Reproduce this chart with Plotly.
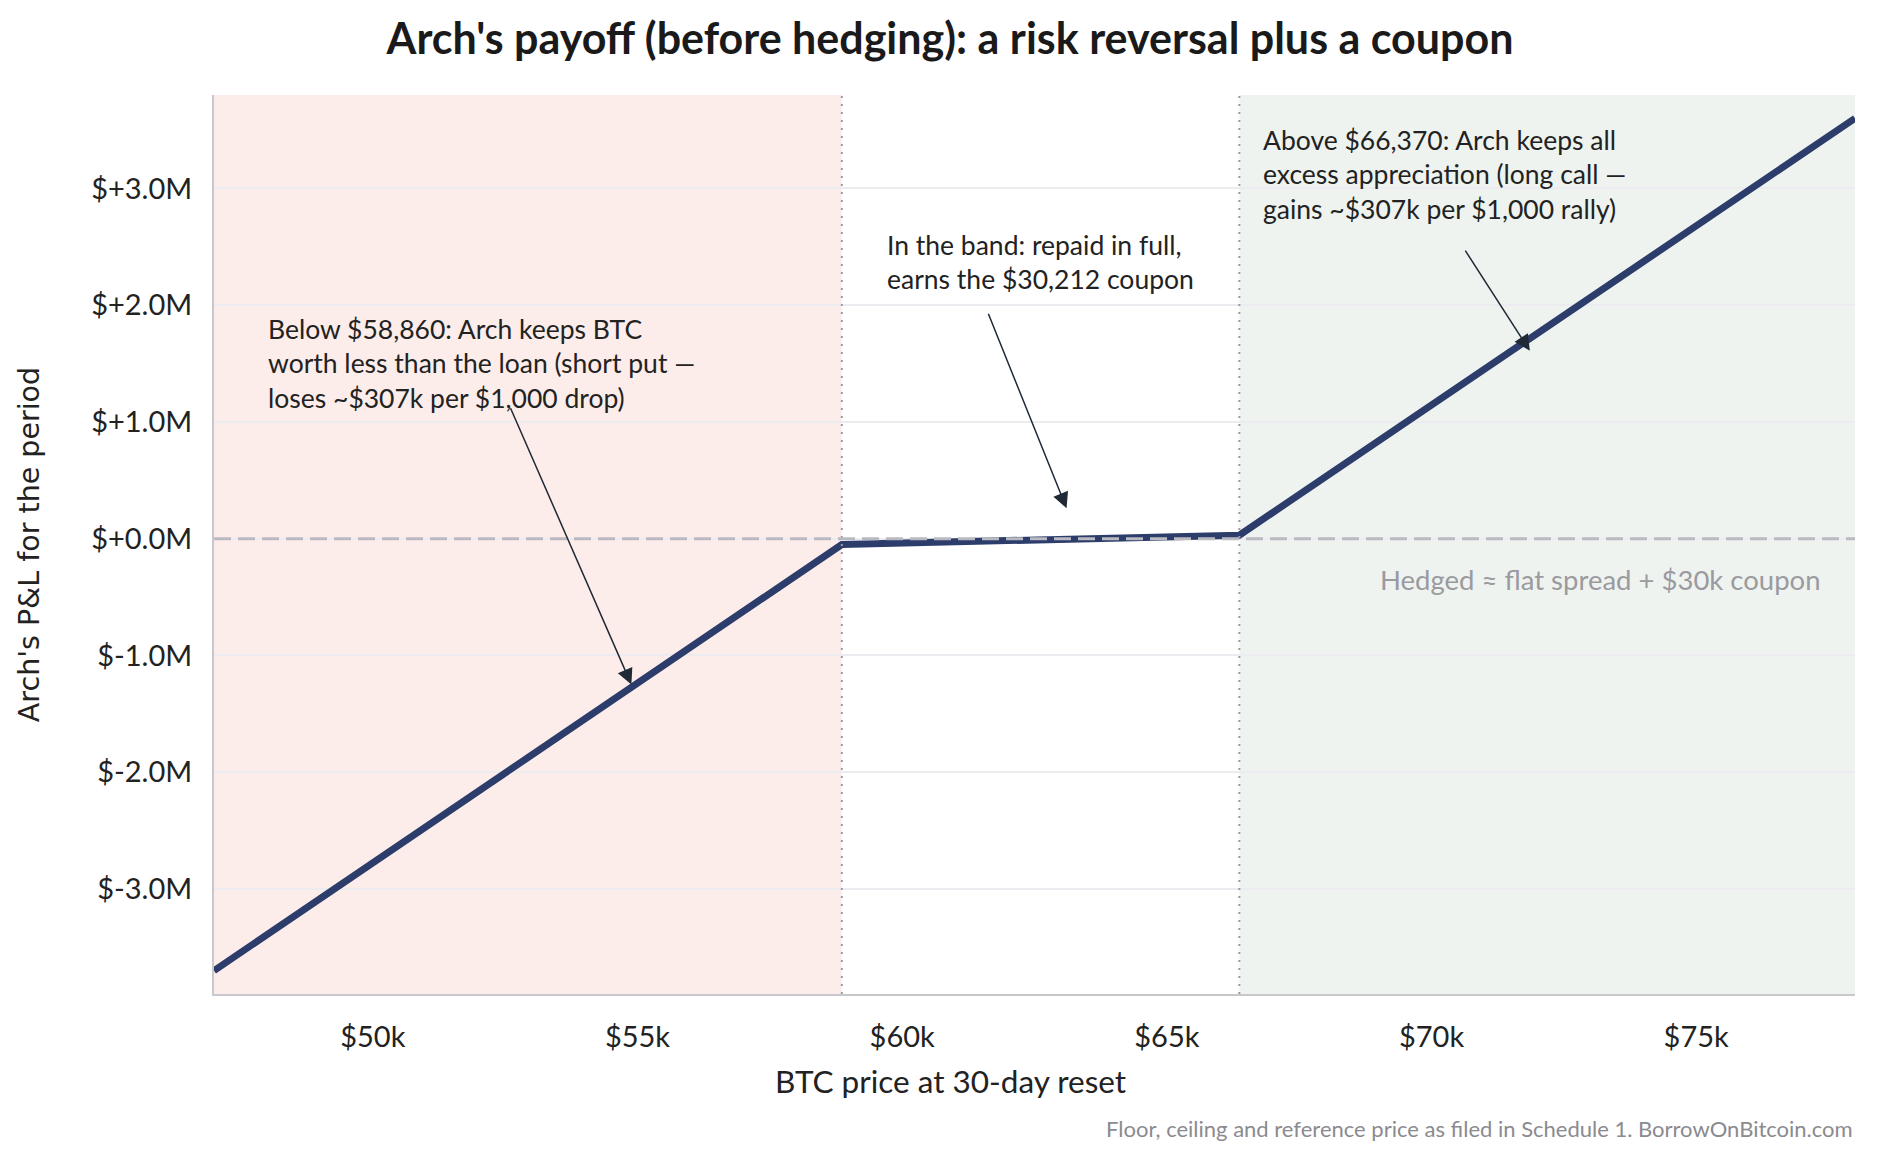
import plotly.graph_objects as go

# BTC price at reset and Arch's P&L ($M) at the kinks of the payoff
PRICE = [47000, 58860, 66370, 78000]
PNL_M = [-3.70, -0.05, 0.03, 3.60]

FLOOR = 58860
CEILING = 66370
X_RANGE = [47000, 78000]
Y_RANGE = [-3.9, 3.8]

X_TICKS = [50000, 55000, 60000, 65000, 70000, 75000]
X_TICK_TEXT = ["$50k", "$55k", "$60k", "$65k", "$70k", "$75k"]
Y_TICKS = [-3, -2, -1, 0, 1, 2, 3]
Y_TICK_TEXT = ["$-3.0M", "$-2.0M", "$-1.0M", "$+0.0M", "$+1.0M", "$+2.0M", "$+3.0M"]

FONT = "Lato, 'Segoe UI', sans-serif"
NAVY = "#2d3d6b"
INK = "#222222"
ARROW = "#1f2a36"

# plot area in page pixels (the page body adds its own 8px offset)
LEFT, RIGHT = 206, 1847
TOP, BOTTOM = 87, 986
PAGE_MID = 942  # horizontal centre of the window, in figure pixels

fig = go.Figure()

fig.add_trace(
    go.Scatter(
        x=PRICE,
        y=PNL_M,
        mode="lines",
        line={"color": NAVY, "width": 7},
        showlegend=False,
        hoverinfo="skip",
    )
)

# shaded zones: below floor, above ceiling
fig.add_shape(type="rect", xref="x", yref="paper", x0=X_RANGE[0], x1=FLOOR, y0=0, y1=1,
              fillcolor="#fcedea", line={"width": 0}, layer="below")
fig.add_shape(type="rect", xref="x", yref="paper", x0=CEILING, x1=X_RANGE[1], y0=0, y1=1,
              fillcolor="#eef3ef", line={"width": 0}, layer="below")

for xv in (FLOOR, CEILING):
    fig.add_shape(type="line", xref="x", yref="paper", x0=xv, x1=xv, y0=0, y1=1,
                  line={"color": "#9a9aa0", "width": 2, "dash": "2px,6px"})

fig.add_shape(type="line", xref="paper", yref="y", x0=0, x1=1, y0=0, y1=0,
              line={"color": "#b9b9c2", "width": 3, "dash": "17px,7px"})

notes = [
    (47985, 1.95, "Below $58,860: Arch keeps BTC<br>worth less than the loan (short put —<br>loses ~$307k per $1,000 drop)"),
    (59670, 2.67, "In the band: repaid in full,<br>earns the $30,212 coupon"),
    (66770, 3.57, "Above $66,370: Arch keeps all<br>excess appreciation (long call —<br>gains ~$307k per $1,000 rally)"),
]
for x, y, text in notes:
    fig.add_annotation(x=x, y=y, text=text, showarrow=False, xanchor="left", yanchor="top",
                       align="left", font={"family": FONT, "size": 26.5, "color": INK})

arrows = [
    (54885, -1.25, 52590, 1.13),
    (63106, 0.26, 61617, 1.94),
    (71857, 1.61, 70620, 2.48),
]
for hx, hy, tx, ty in arrows:
    fig.add_annotation(x=hx, y=hy, ax=tx, ay=ty, axref="x", ayref="y", text="",
                       showarrow=True, arrowhead=2, arrowsize=2.1, arrowwidth=1.5,
                       arrowcolor=ARROW)

fig.add_annotation(x=77402, y=-0.353, text="Hedged ≈ flat spread + $30k coupon", showarrow=False,
                   xanchor="right", yanchor="middle",
                   font={"family": FONT, "size": 27.5, "color": "#9a9aa0"})

# x-axis title, centred on the page rather than the plot area
fig.add_annotation(x=(PAGE_MID - LEFT) / (RIGHT - LEFT), y=(BOTTOM - 1073) / (BOTTOM - TOP),
                   xref="paper", yref="paper", showarrow=False,
                   text="BTC price at 30-day reset", xanchor="center", yanchor="middle",
                   font={"family": FONT, "size": 31.5, "color": INK})

fig.add_annotation(x=1, y=(BOTTOM - 1120) / (BOTTOM - TOP), xref="paper", yref="paper",
                   showarrow=False,
                   text="Floor, ceiling and reference price as filed in Schedule 1. BorrowOnBitcoin.com",
                   xanchor="right", yanchor="middle",
                   font={"family": FONT, "size": 22, "color": "#8a8a90"})

fig.update_layout(
    width=1900,
    height=1150,
    margin={"l": LEFT, "r": 1900 - RIGHT, "t": TOP, "b": 1150 - BOTTOM},
    paper_bgcolor="white",
    plot_bgcolor="white",
    font={"family": FONT, "size": 29, "color": INK},
    title={
        "text": "<b>Arch's payoff (before hedging): a risk reversal plus a coupon</b>",
        "x": PAGE_MID / 1900,
        "xanchor": "center",
        "y": 1 - 31 / 1150,
        "yanchor": "middle",
        "font": {"family": FONT, "size": 43, "color": "#1a1a1a"},
    },
    xaxis={
        "range": X_RANGE,
        "tickvals": X_TICKS,
        "ticktext": X_TICK_TEXT,
        "showgrid": False,
        "zeroline": False,
        "showline": True,
        "linecolor": "#c8c8cc",
        "linewidth": 2,
        "ticks": "outside",
        "ticklen": 16,
        "tickcolor": "rgba(0,0,0,0)",
        "tickfont": {"size": 29, "color": INK},
    },
    yaxis={
        "range": Y_RANGE,
        "tickvals": Y_TICKS,
        "ticktext": Y_TICK_TEXT,
        "showgrid": True,
        "gridcolor": "#ececf0",
        "gridwidth": 1.5,
        "zeroline": False,
        "showline": True,
        "linecolor": "#c8c8cc",
        "linewidth": 2,
        "ticks": "outside",
        "ticklen": 14,
        "tickcolor": "rgba(0,0,0,0)",
        "tickfont": {"size": 29, "color": INK},
        "title": {"text": "Arch's P&L for the period",
                  "font": {"family": "DejaVu Sans", "size": 28.5, "color": INK}, "standoff": 43},
    },
)

fig.write_html("out.html")
